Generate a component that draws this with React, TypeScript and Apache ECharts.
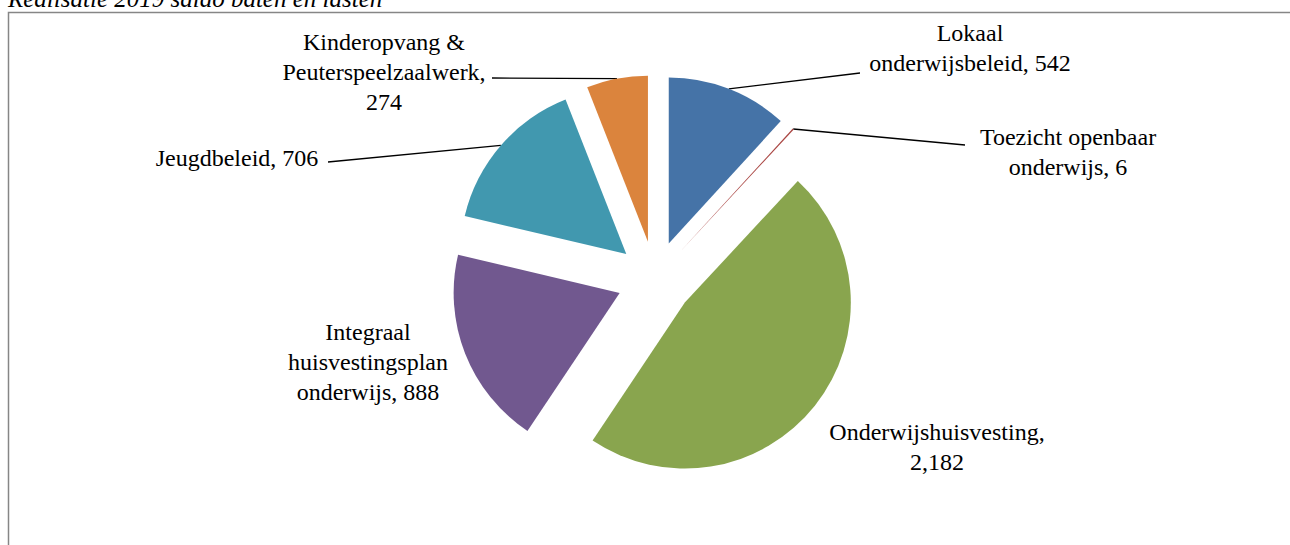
import React, { useEffect, useRef } from 'react';
import * as echarts from 'echarts';

const categories = [
  'Lokaal onderwijsbeleid',
  'Toezicht openbaar onderwijs',
  'Onderwijshuisvesting',
  'Integraal huisvestingsplan onderwijs',
  'Jeugdbeleid',
  'Kinderopvang & Peuterspeelzaalwerk',
];
const values = [542, 6, 2182, 888, 706, 274];
const colors = ['#4573A7', '#AA4643', '#89A54E', '#71588F', '#4198AF', '#DB843D'];
const labelTemplates = [
  'Lokaal\nonderwijsbeleid, #',
  'Toezicht openbaar\nonderwijs, #',
  'Onderwijshuisvesting,\n#',
  'Integraal\nhuisvestingsplan\nonderwijs, #',
  'Jeugdbeleid, #',
  'Kinderopvang &\nPeuterspeelzaalwerk,\n#',
];
const titleText = 'Realisatie 2019 saldo baten en lasten';

// layout
const CX = 655;
const CY = 279;
const R = 166;
const EXPLODE = 38;
const labelCenters: number[][] = [
  [970, 48],
  [1068, 152],
  [937, 447],
  [368, 362],
  [237, 158],
  [384, 72],
];
const leaderEnds: (number[] | null)[] = [
  [860, 73],
  [965, 145],
  null,
  null,
  [328, 162],
  [492, 78],
];

const FONT = 'Liberation Serif';

function fmt(v: number) {
  return v.toLocaleString('en-US');
}

export default function App() {
  const ref = useRef<HTMLDivElement>(null);
  useEffect(() => {
    if (!ref.current) return;
    const chart = echarts.init(ref.current, undefined, { renderer: 'svg' });
    const total = values.reduce((a, b) => a + b, 0);
    let cum = 0;
    const mids = values.map((v) => {
      const m = ((cum + v / 2) / total) * Math.PI * 2;
      cum += v;
      return m;
    });
    const series = values.map((_, i) => {
      const mid = mids[i];
      const cx = CX + EXPLODE * Math.sin(mid);
      const cy = CY - EXPLODE * Math.cos(mid);
      const start = [cx + R * Math.sin(mid), cy - R * Math.cos(mid)];
      return {
        type: 'pie',
        center: [cx, cy],
        radius: R,
        startAngle: 90,
        clockwise: true,
        avoidLabelOverlap: false,
        silent: true,
        z: 2,
        data: values.map((v, j) => ({
          value: v,
          name: categories[j],
          itemStyle: { color: j === i ? colors[j] : 'rgba(0,0,0,0)', borderWidth: 0 },
          label: { show: j === i },
          labelLine: { show: j === i && leaderEnds[j] != null },
        })),
        label: {
          position: 'outside',
          formatter: (p: any) => labelTemplates[p.dataIndex].replace('#', fmt(values[p.dataIndex])),
          fontFamily: FONT,
          fontSize: 24,
          lineHeight: 30,
          color: '#000',
          align: 'center',
        },
        labelLine: {
          length: 10,
          length2: 10,
          lineStyle: { color: '#000', width: 1.3 },
        },
        labelLayout: (params: any) => {
          if (params.dataIndex !== i) return {};
          const [x, y] = labelCenters[i];
          const res: any = { x, y, align: 'center', verticalAlign: 'middle' };
          const end = leaderEnds[i];
          if (end) {
            res.labelLinePoints = [start, start, end];
          }
          return res;
        },
      };
    });
    chart.setOption({
      animation: false,
      textStyle: { fontFamily: FONT },
      graphic: [
        {
          type: 'rect',
          shape: { x: 8.5, y: 12.5, width: 1283, height: 560 },
          style: { fill: 'none', stroke: '#868686', lineWidth: 1.5 },
          z: 0,
        },
        {
          type: 'text',
          x: 8,
          y: 11,
          style: {
            text: titleText,
            fontFamily: FONT,
            fontStyle: 'italic',
            fontSize: 25,
            fill: '#000',
            verticalAlign: 'bottom',
          },
          z: 1,
        },
      ],
      series,
    });
    return () => chart.dispose();
  }, []);
  return (
    <div
      ref={ref}
      style={{ position: 'absolute', left: 0, top: 0, width: 1290, height: 545, background: '#fff' }}
    />
  );
}
